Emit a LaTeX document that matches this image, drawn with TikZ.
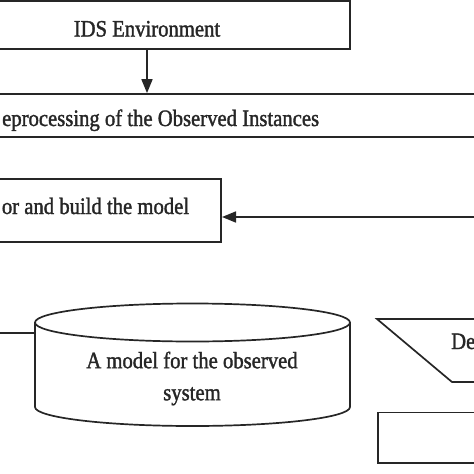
\documentclass[tikz,border=0pt]{standalone}
\usepackage{fontspec}
\setmainfont{Liberation Serif}[FakeStretch=0.88,FakeBold=1.5]
\usetikzlibrary{arrows.meta}

\tikzset{
  flowbox/.style={draw, line width=1.7pt, inner ysep=0pt, font=\fontsize{23.5}{32}\selectfont},
  flowtext/.style={font=\fontsize{23.5}{32}\selectfont},
  flowline/.style={draw, line width=1.7pt},
  flowarrow/.style={flowline, -{Triangle[length=14pt,width=11pt]}}
}

\begin{document}
\begin{tikzpicture}[x=1pt, y=-1pt, color=black!85]
  \useasboundingbox (0,0) rectangle (474,474);
  \clip (0,0) rectangle (474,474);

  % Nodes:
  \node[flowbox, minimum width=406pt, minimum height=48pt, text height=23pt, text depth=0pt] (ids) at (147,25) {IDS Environment};
  \node[flowbox, anchor=east, text width=340pt, align=flush right, inner xsep=162pt, minimum height=43pt, text height=26pt, text depth=5pt] (prep) at (482,115.5) {eprocessing of the Observed Instances};
  \node[flowbox, anchor=east, text width=250pt, align=flush right, inner xsep=32pt, minimum height=63pt, text height=16pt, text depth=9pt] (detect) at (222,210.5) {or and build the model};
  \node[flowtext, align=center] (model) at (192,378.5) {A model for the observed\\system};
  \node[flowtext, anchor=base west, inner sep=0pt] (disp) at (451,349) {De};

  % Shapes:
  \draw[flowline] (35,322.5) -- (35,407) arc[start angle=180, end angle=360, x radius=157.5pt, y radius=19pt] -- (350,322.5);
  \draw[flowline] (192.5,322.5) ellipse [x radius=157.5pt, y radius=19pt];
  \draw[flowline] (490,319) -- (377,319) -- (452,382) -- (490,382);
  \draw[flowline] (490,412.5) -- (378,412.5) -- (378,463) -- (490,463);

  % Connections:
  \coordinate (fback) at (480,217);
  \coordinate (cylin) at (-5,333);
  \coordinate (cylW) at (35,333);
  \draw[flowarrow] (ids.south) -- (ids.south |- prep.north);
  \draw[flowarrow] (fback) -- (fback -| detect.east);
  \draw[flowline] (cylin) -- (cylW);

\end{tikzpicture}
\end{document}
